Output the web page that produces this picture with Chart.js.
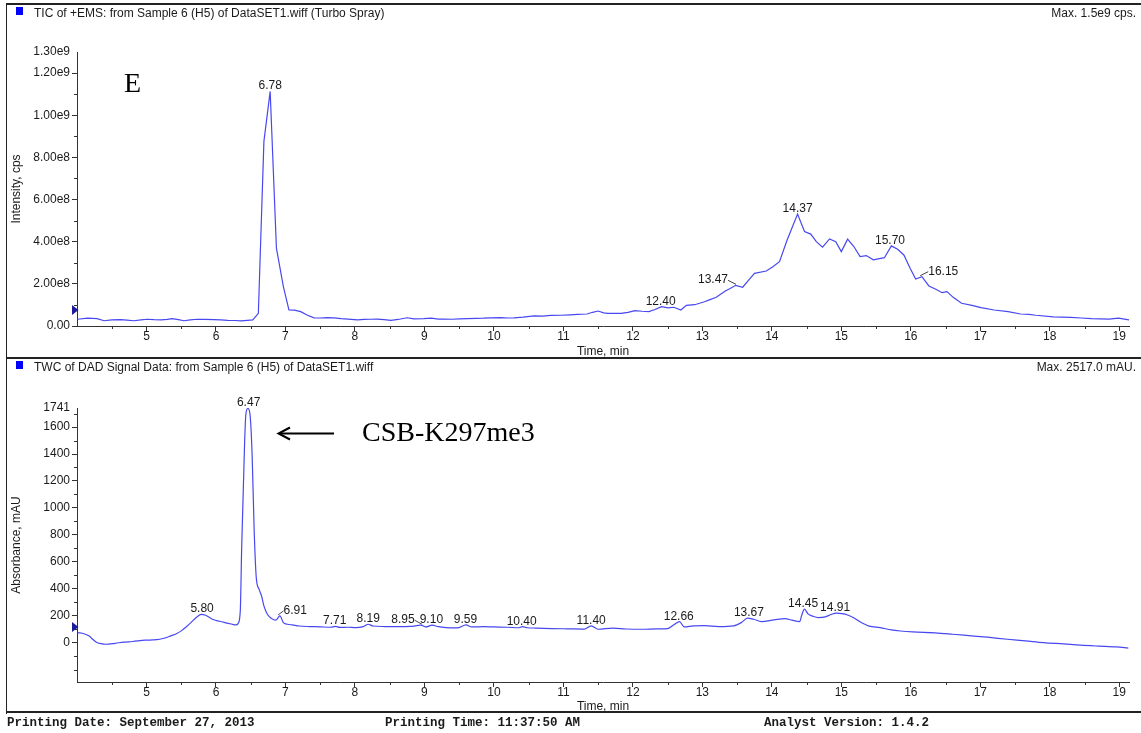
<!DOCTYPE html>
<html>
<head>
<meta charset="utf-8">
<script src="https://cdn.jsdelivr.net/npm/chart.js@4.4.1/dist/chart.umd.min.js"></script>
<style>
  body { margin: 0; background: #fff; }
  #page { position: relative; width: 1141px; height: 733px; overflow: hidden;
          font-family: "Liberation Sans", Arial, sans-serif; color: #1a1a1a; }
  canvas { position: absolute; left: 0; }
  .hline { position: absolute; left: 6px; right: 0; height: 2px; background: #222; z-index: 2; }
  .vline { position: absolute; left: 6px; top: 3px; width: 1px; height: 711px; background: #222; z-index: 2; }
  .sq { position: absolute; left: 16px; width: 7px; height: 8px; background: #0000ff; }
  .hdr { position: absolute; left: 34px; font-size: 12px; line-height: 14px; white-space: nowrap; }
  .max { position: absolute; right: 5px; font-size: 12px; line-height: 14px; white-space: nowrap; }
  .foot { position: absolute; top: 715px; font: bold 12.5px "Liberation Mono", "Courier New", monospace;
          line-height: 16px; white-space: nowrap; }
  .serif { position: absolute; font-family: "Liberation Serif", "Times New Roman", serif;
           font-size: 28px; line-height: 32px; color: #000; white-space: nowrap; }
</style>
</head>
<body>
<div id="page">
  <canvas id="ticChart" width="1141" height="360" style="top:0"></canvas>
  <canvas id="dadChart" width="1141" height="360" style="top:356px"></canvas>

  <div class="hline" style="top:3px"></div>
  <div class="hline" style="top:357px"></div>
  <div class="hline" style="top:711px"></div>
  <div class="vline"></div>

  <div class="sq" style="top:7px"></div>
  <div class="hdr" style="top:6px">TIC of +EMS: from Sample 6 (H5) of DataSET1.wiff (Turbo Spray)</div>
  <div class="max" style="top:6px">Max. 1.5e9 cps.</div>

  <div class="sq" style="top:361px"></div>
  <div class="hdr" style="top:360px">TWC of DAD Signal Data: from Sample 6 (H5) of DataSET1.wiff</div>
  <div class="max" style="top:360px">Max. 2517.0 mAU.</div>

  <div class="serif" style="left:124px; top:67px">E</div>
  <div class="serif" style="left:362px; top:416px">CSB-K297me3</div>
  <svg style="position:absolute; left:0; top:0" width="1141" height="733">
    <line x1="279" y1="433.5" x2="334" y2="433.5" stroke="#000" stroke-width="2"/>
    <polyline points="290,427.5 278.5,433.5 290,439.5" fill="none" stroke="#000" stroke-width="2"/>
  </svg>

  <div class="foot" style="left:7px">Printing Date: September 27, 2013</div>
  <div class="foot" style="left:385px">Printing Time: 11:37:50 AM</div>
  <div class="foot" style="left:764px">Analyst Version: 1.4.2</div>
</div>

<script>
// TIC of +EMS (cps)
const ticTime = [4.01, 4.15, 4.29, 4.39, 4.50, 4.63, 4.72, 4.82, 4.92, 5.01, 5.11, 5.21, 5.30, 5.37,
  5.46, 5.54, 5.63, 5.73, 5.85, 5.97, 6.07, 6.17, 6.27, 6.36, 6.45, 6.53, 6.61, 6.69, 6.78, 6.87,
  6.97, 7.05, 7.13, 7.22, 7.31, 7.41, 7.50, 7.60, 7.70, 7.80, 7.90, 8.04, 8.13, 8.22, 8.32, 8.42,
  8.52, 8.62, 8.75, 8.85, 8.99, 9.10, 9.20, 9.28, 9.40, 9.50, 9.62, 9.75, 9.85, 9.95, 10.10, 10.20,
  10.29, 10.42, 10.58, 10.70, 10.82, 10.96, 11.10, 11.20, 11.34, 11.42, 11.50, 11.58, 11.64, 11.83,
  11.93, 12.03, 12.13, 12.23, 12.32, 12.41, 12.51, 12.59, 12.69, 12.77, 12.89, 13.03, 13.11, 13.20,
  13.33, 13.40, 13.48, 13.58, 13.66, 13.75, 13.92, 14.01, 14.11, 14.22, 14.37, 14.47, 14.56, 14.64,
  14.73, 14.83, 14.92, 15.00, 15.09, 15.18, 15.27, 15.36, 15.46, 15.62, 15.72, 15.81, 15.90, 15.99,
  16.07, 16.16, 16.26, 16.36, 16.45, 16.52, 16.61, 16.73, 16.88, 17.01, 17.20, 17.40, 17.58, 17.70,
  17.80, 18.05, 18.30, 18.45, 18.60, 18.85, 18.99, 19.14];
const ticIntensity = [0.32e8, 0.37e8, 0.35e8, 0.25e8, 0.29e8, 0.30e8, 0.28e8, 0.25e8, 0.29e8, 0.32e8,
  0.30e8, 0.29e8, 0.31e8, 0.35e8, 0.30e8, 0.25e8, 0.29e8, 0.32e8, 0.31e8, 0.30e8, 0.29e8, 0.27e8,
  0.26e8, 0.24e8, 0.27e8, 0.29e8, 0.60e8, 8.76e8, 11.13e8, 3.69e8, 1.87e8, 0.76e8, 0.75e8, 0.68e8,
  0.52e8, 0.39e8, 0.38e8, 0.40e8, 0.39e8, 0.35e8, 0.33e8, 0.29e8, 0.31e8, 0.32e8, 0.33e8, 0.30e8,
  0.27e8, 0.31e8, 0.39e8, 0.34e8, 0.35e8, 0.37e8, 0.33e8, 0.33e8, 0.32e8, 0.34e8, 0.35e8, 0.36e8,
  0.37e8, 0.39e8, 0.40e8, 0.38e8, 0.39e8, 0.42e8, 0.48e8, 0.47e8, 0.50e8, 0.51e8, 0.53e8, 0.55e8,
  0.57e8, 0.65e8, 0.71e8, 0.62e8, 0.60e8, 0.60e8, 0.65e8, 0.73e8, 0.70e8, 0.68e8, 0.78e8, 0.92e8,
  0.86e8, 0.89e8, 0.76e8, 0.98e8, 1.01e8, 1.15e8, 1.25e8, 1.36e8, 1.66e8, 1.78e8, 1.93e8, 1.84e8,
  2.15e8, 2.50e8, 2.61e8, 2.80e8, 3.05e8, 4.08e8, 5.31e8, 4.48e8, 4.36e8, 4.00e8, 3.74e8, 4.13e8,
  4.00e8, 3.53e8, 4.12e8, 3.77e8, 3.29e8, 3.34e8, 3.14e8, 3.24e8, 3.80e8, 3.64e8, 3.37e8, 2.74e8,
  2.23e8, 2.34e8, 1.90e8, 1.74e8, 1.58e8, 1.63e8, 1.36e8, 1.08e8, 0.98e8, 0.87e8, 0.76e8, 0.68e8,
  0.57e8, 0.55e8, 0.51e8, 0.43e8, 0.41e8, 0.38e8, 0.35e8, 0.33e8, 0.37e8, 0.29e8];
const ticPeakLabels = ['6.78', '12.40', '13.47', '14.37', '15.70', '16.15'];
const ticYTicks = [0, 2e8, 4e8, 6e8, 8e8, 10e8, 12e8, 13e8];
const ticMarker = 0.76e8;

// TWC of DAD signal (mAU)
const dadTime = [4.01, 4.10, 4.17, 4.23, 4.28, 4.35, 4.41, 4.55, 4.67, 4.80, 4.98, 5.10, 5.19, 5.28,
  5.35, 5.43, 5.50, 5.57, 5.64, 5.72, 5.79, 5.85, 5.95, 6.05, 6.13, 6.22, 6.29, 6.32, 6.35, 6.37,
  6.41, 6.43, 6.46, 6.49, 6.52, 6.55, 6.58, 6.62, 6.66, 6.69, 6.74, 6.80, 6.86, 6.92, 6.97, 7.03,
  7.10, 7.20, 7.34, 7.50, 7.65, 7.72, 7.78, 7.90, 8.01, 8.12, 8.19, 8.26, 8.43, 8.60, 8.80, 8.95,
  9.02, 9.11, 9.20, 9.31, 9.47, 9.60, 9.68, 9.85, 10.00, 10.20, 10.35, 10.41, 10.48, 10.60, 10.83,
  11.06, 11.30, 11.40, 11.50, 11.71, 11.90, 12.13, 12.35, 12.50, 12.60, 12.67, 12.74, 12.87, 13.03,
  13.24, 13.45, 13.56, 13.65, 13.74, 13.85, 14.03, 14.19, 14.29, 14.40, 14.43, 14.47, 14.52, 14.58,
  14.67, 14.77, 14.85, 14.93, 15.01, 15.09, 15.17, 15.25, 15.33, 15.40, 15.56, 15.72, 15.85, 16.03,
  16.35, 16.60, 16.87, 17.10, 17.39, 17.65, 17.91, 18.20, 18.44, 18.70, 18.96, 19.13];
const dadAbsorbance = [76, 68, 52, 25, 5, -6, -10, -3, 5, 10, 20, 22, 27, 38, 52, 68, 89, 118, 150,
  190, 212, 205, 175, 160, 150, 140, 133, 145, 237, 706, 1447, 1693, 1738, 1693, 1398, 830, 484, 398,
  341, 274, 212, 180, 168, 200, 150, 138, 133, 125, 121, 119, 116, 122, 115, 116, 113, 120, 138, 125,
  121, 120, 122, 131, 118, 131, 120, 113, 111, 133, 118, 120, 118, 116, 112, 120, 112, 110, 106, 104,
  102, 126, 101, 109, 103, 101, 104, 106, 138, 158, 118, 126, 128, 121, 126, 150, 183, 175, 158, 170,
  180, 168, 158, 205, 250, 215, 200, 187, 193, 210, 220, 217, 207, 188, 163, 140, 124, 113, 96, 88,
  81, 74, 64, 52, 42, 27, 15, 2, -8, -17, -24, -30, -39];
const dadPeakLabels = ['5.80', '6.47', '6.91', '7.71', '8.19', '8.95', '9.10', '9.59', '10.40',
  '11.40', '12.66', '13.67', '14.45', '14.91'];
const dadYTicks = [0, 200, 400, 600, 800, 1000, 1200, 1400, 1600, 1741];
const dadMarker = 118;

const timeTicks = [5, 6, 7, 8, 9, 10, 11, 12, 13, 14, 15, 16, 17, 18, 19];

const lineBlue = 'rgb(72, 72, 240)';
const axisGray = '#333';
const textColor = '#1a1a1a';
const fontFamily = '"Liberation Sans", Arial, sans-serif';
// labels that sit beside their peak with a short leader line
const labelShift = { '13.47': -22, '16.15': 22, '6.91': 16, '8.95': -18 };

function peakValue(times, values, t) {
  let best = null;
  times.forEach((tt, i) => {
    if (Math.abs(tt - t) <= 0.06 && (best === null || values[i] > best)) best = values[i];
  });
  return best;
}

const chromPlugin = {
  id: 'chrom',
  afterDraw(chart, args, opts) {
    const { ctx } = chart;
    const xs = chart.scales.x, ys = chart.scales.y;
    ctx.save();

    // minor tick marks
    ctx.strokeStyle = axisGray;
    ctx.lineWidth = 1;
    ctx.beginPath();
    for (let v = 4.5; v < xs.max; v += 1) {
      const px = Math.round(xs.getPixelForValue(v)) + 0.5;
      ctx.moveTo(px, ys.bottom);
      ctx.lineTo(px, ys.bottom + 3);
    }
    for (let v = opts.yMinorFrom; v <= opts.yMinorTo + 1e-6; v += opts.yMinorStep) {
      if (opts.yTicks.includes(v)) continue;
      const py = Math.round(ys.getPixelForValue(v)) + 0.5;
      ctx.moveTo(xs.left - 3, py);
      ctx.lineTo(xs.left, py);
    }
    ctx.stroke();

    // baseline marker on the y axis
    const my = ys.getPixelForValue(opts.marker);
    ctx.fillStyle = '#1c1c9a';
    ctx.beginPath();
    ctx.moveTo(xs.left - 5, my - 5);
    ctx.lineTo(xs.left + 1.5, my);
    ctx.lineTo(xs.left - 5, my + 5);
    ctx.closePath();
    ctx.fill();

    // retention time labels
    ctx.font = '12px ' + fontFamily;
    ctx.fillStyle = textColor;
    ctx.textAlign = 'center';
    ctx.textBaseline = 'alphabetic';
    opts.labels.forEach(lab => {
      const t = parseFloat(lab);
      const val = peakValue(opts.times, opts.values, t);
      const px = xs.getPixelForValue(t);
      const py = ys.getPixelForValue(val);
      const dx = labelShift[lab] || 0;
      ctx.fillText(lab, px + dx, py - 2);
      if (dx) {
        const w = ctx.measureText(lab).width;
        const sx = dx < 0 ? px + dx + w / 2 : px + dx - w / 2;
        ctx.strokeStyle = '#444';
        ctx.beginPath();
        ctx.moveTo(sx, py - 5);
        ctx.lineTo(px + (dx < 0 ? 1 : -1), py - 1);
        ctx.stroke();
      }
    });
    ctx.restore();
  }
};

function makeChart(id, cfg) {
  return new Chart(document.getElementById(id), {
    type: 'line',
    data: {
      datasets: [{
        data: cfg.times.map((t, i) => ({ x: t, y: cfg.values[i] })),
        borderColor: lineBlue,
        borderWidth: 1.2,
        pointRadius: 0,
        fill: false,
        tension: cfg.smooth ? 0.4 : 0,
        cubicInterpolationMode: cfg.smooth ? 'monotone' : 'default'
      }]
    },
    options: {
      responsive: false,
      animation: false,
      devicePixelRatio: 1,
      layout: { padding: { left: 0, right: 12, top: 52, bottom: 0 } },
      plugins: {
        legend: { display: false },
        tooltip: { enabled: false },
        chrom: {
          times: cfg.times, values: cfg.values, labels: cfg.labels, marker: cfg.marker,
          yTicks: cfg.yTicks, yMinorFrom: cfg.yMinorFrom, yMinorTo: cfg.yMinorTo, yMinorStep: cfg.yMinorStep
        }
      },
      scales: {
        x: {
          type: 'linear',
          min: 4.0,
          max: 19.14,
          afterFit: s => { s.height = 34; },
          afterBuildTicks: s => { s.ticks = timeTicks.map(v => ({ value: v })); },
          grid: { drawOnChartArea: false, tickLength: 5, color: axisGray },
          border: { color: axisGray, width: 1 },
          ticks: { color: textColor, padding: 0, maxRotation: 0, font: { family: fontFamily, size: 12, lineHeight: 1 } },
          title: { display: true, text: 'Time, min', color: textColor, padding: { top: 0, bottom: cfg.titlePad },
                   font: { family: fontFamily, size: 12 } }
        },
        y: {
          min: cfg.yMin,
          max: cfg.yMax,
          afterFit: s => { s.width = 77; },
          afterBuildTicks: s => { s.ticks = cfg.yTicks.map(v => ({ value: v })); },
          grid: {
            drawOnChartArea: false, tickLength: 5, color: axisGray,
            tickColor: c => (c.tick && c.tick.value === cfg.yMax ? 'rgba(0,0,0,0)' : axisGray)
          },
          border: { color: axisGray, width: 1 },
          ticks: { color: textColor, padding: 2, font: { family: fontFamily, size: 12 }, callback: cfg.fmt },
          title: { display: true, text: cfg.yTitle, color: textColor, padding: { top: 9, bottom: 0 },
                   font: { family: fontFamily, size: 12 } }
        }
      }
    },
    plugins: [chromPlugin]
  });
}

const ticChart = makeChart('ticChart', {
  times: ticTime, values: ticIntensity, labels: ticPeakLabels, marker: ticMarker,
  yMin: 0, yMax: 13e8, yTicks: ticYTicks, yMinorFrom: 1e8, yMinorTo: 11e8, yMinorStep: 1e8,
  yTitle: 'Intensity, cps', titlePad: 1, smooth: false,
  fmt: v => (v === 0 ? '0.00' : Number(v).toExponential(2).replace('e+', 'e'))
});

const dadChart = makeChart('dadChart', {
  times: dadTime, values: dadAbsorbance, labels: dadPeakLabels, marker: dadMarker,
  yMin: -290, yMax: 1741, yTicks: dadYTicks, yMinorFrom: -200, yMinorTo: 1700, yMinorStep: 100,
  yTitle: 'Absorbance, mAU', titlePad: 2, smooth: true,
  fmt: v => String(v)
});
</script>
</body>
</html>
